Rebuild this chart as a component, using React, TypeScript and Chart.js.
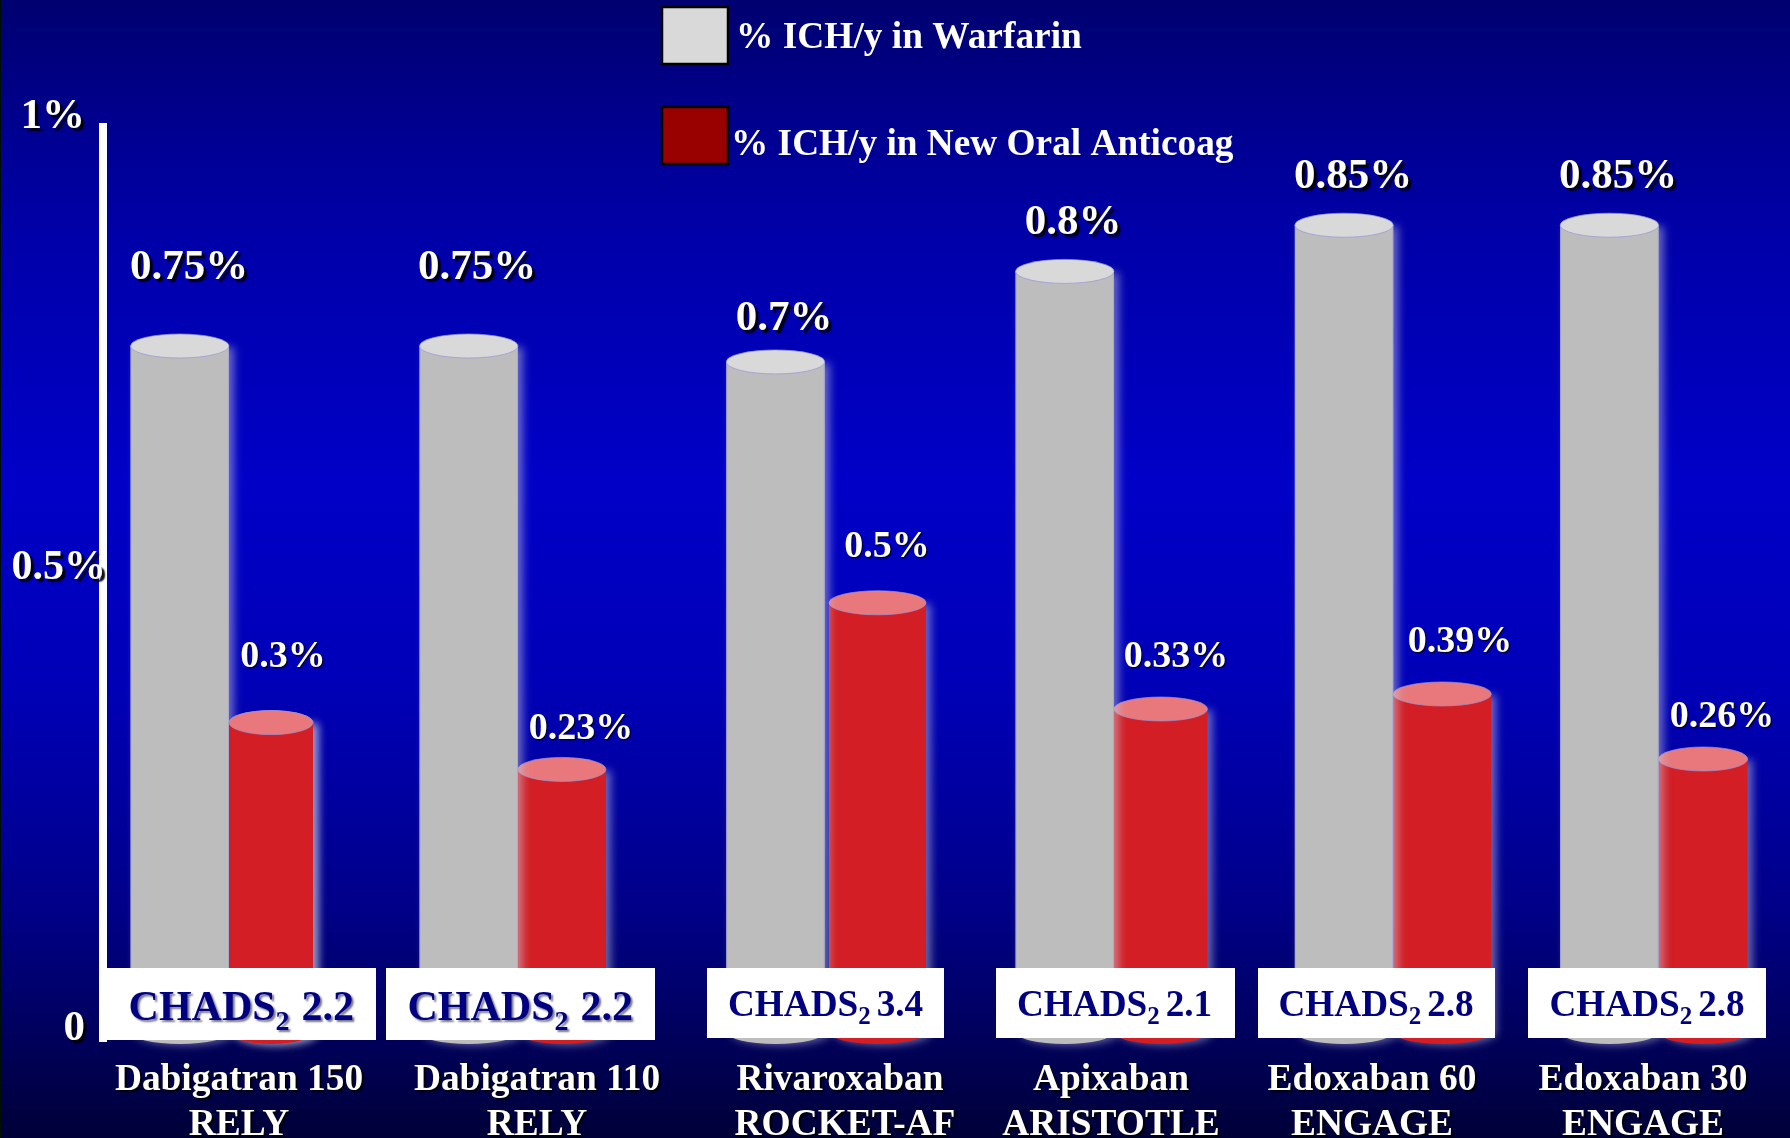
import React, { useEffect, useRef } from "react";
import { Chart, registerables, BarController, BarElement } from "chart.js";

const trials = ["Dabigatran 150", "Dabigatran 110", "Rivaroxaban", "Apixaban", "Edoxaban 60", "Edoxaban 30"];
const studies = ["RELY", "RELY", "ROCKET-AF", "ARISTOTLE", "ENGAGE", "ENGAGE"];
const chadsScores = ["2.2", "2.2", "3.4", "2.1", "2.8", "2.8"];
const warfarinHeights = [0.7576, 0.7576, 0.74, 0.84, 0.891, 0.891];
const noacHeights = [0.3417, 0.29, 0.474, 0.3567, 0.3733, 0.3015];
const warfarinLabels = ["0.75%", "0.75%", "0.7%", "0.8%", "0.85%", "0.85%"];
const noacLabels = ["0.3%", "0.23%", "0.5%", "0.33%", "0.39%", "0.26%"];
const yTicks = [0, 0.5, 1];
const yTickLabels = ["0", "0.5%", "1%"];
const seriesNames = ["% ICH/y in Warfarin", "% ICH/y in New Oral Anticoag"];

const SERIF = '"Liberation Serif"';
const layout = {
  groupShift: [-14.6, -6.8, 18.8, 26.9, 25, 9.2],
  noacGap: [0, 0, 4.3, 0, 0, 0],
  noacWidth: [84, 88, 97, 93.5, 98, 89],
  noacOnTop: [true, false, false, false, false, false],
  warfarinLabel: [[189, 279], [477, 279], [784, 330], [1073, 234], [1353, 188], [1618, 188]],
  noacLabel: [[283, 667], [581, 739], [887, 557], [1176, 667], [1460, 652], [1722, 727]],
  tick: [[85, 1040], [106, 579], [85, 128]],
  xLabelX: [239, 537, 845, 1111, 1372, 1643],
  xLabelFirstLineX: [239, 537, 840, 1111, 1372, 1643],
  box: [[107, 968, 269, 72], [386, 968, 269, 72], [707, 968, 237, 70], [996, 968, 239, 70], [1258, 968, 237, 70], [1528, 968, 238, 70]],
  chadsX: [128.6, 407.5, 728, 1017, 1278.5, 1549.5],
};

class CylinderElement extends BarElement {
  static id = "cylinder";
  draw(ctx: CanvasRenderingContext2D) {
    const self: any = this;
    const s = self.seriesIndex;
    const i = self.pointIndex;
    const left = self.x - self.width / 2 + layout.groupShift[i] + (s === 1 ? layout.noacGap[i] : 0);
    const w = s === 1 ? layout.noacWidth[i] : self.width;
    const cx = left + w / 2;
    const ry = 12;
    const body = self.options.backgroundColor;
    const cap = s === 0 ? "#d9d9d9" : "#e8787c";
    ctx.save();
    ctx.shadowColor = "rgba(205,205,225,0.5)";
    ctx.shadowBlur = 9;
    ctx.shadowOffsetX = 5;
    ctx.shadowOffsetY = 1;
    ctx.fillStyle = body;
    ctx.beginPath();
    ctx.moveTo(left, self.y);
    ctx.lineTo(left, self.base);
    ctx.ellipse(cx, self.base, w / 2, ry, 0, Math.PI, 0, true);
    ctx.lineTo(left + w, self.y);
    ctx.closePath();
    ctx.fill();
    ctx.restore();
    ctx.save();
    if (s === 0) {
      ctx.strokeStyle = "rgba(165,165,215,0.8)";
      ctx.lineWidth = 1;
      ctx.beginPath();
      ctx.moveTo(left + 0.5, self.y);
      ctx.lineTo(left + 0.5, self.base);
      ctx.moveTo(left + w - 0.5, self.y);
      ctx.lineTo(left + w - 0.5, self.base);
      ctx.stroke();
    }
    ctx.fillStyle = cap;
    ctx.strokeStyle = "rgba(150,150,215,0.7)";
    ctx.lineWidth = 1;
    ctx.beginPath();
    ctx.ellipse(cx, self.y, w / 2, ry, 0, 0, Math.PI * 2);
    ctx.fill();
    ctx.stroke();
    ctx.restore();
    if (s === 0 && layout.noacOnTop[i] && self.partner) self.partner.draw(ctx);
  }
}

class CylinderController extends BarController {
  static id = "cylinder";
  static defaults = { ...BarController.defaults, dataElementType: "cylinder" };
  updateElements(bars: any[], start: number, count: number, mode: any) {
    super.updateElements(bars as any, start, count, mode);
    for (let i = start; i < start + count; i++) {
      bars[i].seriesIndex = this.index;
      bars[i].pointIndex = i;
      if (this.index === 1) {
        const other = this.chart.getDatasetMeta(0).data[i] as any;
        if (other) other.partner = bars[i];
      }
    }
  }
}

Chart.register(...registerables, CylinderElement, CylinderController);

function shadowText(ctx: CanvasRenderingContext2D, text: string, x: number, y: number, font: string, align: CanvasTextAlign, off = 3) {
  ctx.save();
  ctx.font = font;
  ctx.textAlign = align;
  ctx.textBaseline = "alphabetic";
  if (off > 0) {
    ctx.shadowColor = "rgba(0,0,0,0.95)";
    ctx.shadowBlur = 1.5;
    ctx.shadowOffsetX = off;
    ctx.shadowOffsetY = off;
  }
  ctx.fillStyle = "#ffffff";
  ctx.fillText(text, x, y);
  ctx.restore();
}

const backdrop = {
  id: "backdrop",
  beforeDraw(chart: any) {
    const { ctx, width, height } = chart;
    const g = ctx.createLinearGradient(0, 0, 0, height);
    g.addColorStop(0, "#000070");
    g.addColorStop(0.2, "#0000a8");
    g.addColorStop(0.42, "#0000c8");
    g.addColorStop(0.6, "#0000b8");
    g.addColorStop(0.8, "#000088");
    g.addColorStop(1, "#000038");
    ctx.save();
    ctx.fillStyle = g;
    ctx.fillRect(0, 0, width, height);
    ctx.fillStyle = "#001000";
    ctx.fillRect(0, 0, 1, height);
    ctx.restore();
  },
};

const annotations = {
  id: "annotations",
  afterDatasetsDraw(chart: any) {
    const { ctx } = chart;
    // y-axis tick labels
    yTickLabels.forEach((t, i) => {
      const [x, y] = layout.tick[i];
      shadowText(ctx, t, x, y, `bold ${i === 1 ? 42 : 43}px ${SERIF}`, "right");
    });
    // legend
    const swatches = [[662, 7, 66, 57, "#d9d9d9"], [662, 107, 66, 57, "#990000"]] as const;
    swatches.forEach(([x, y, w, h, c]) => {
      ctx.save();
      ctx.fillStyle = c;
      ctx.strokeStyle = "#000000";
      ctx.lineWidth = 2.5;
      ctx.fillRect(x, y, w, h);
      ctx.strokeRect(x, y, w, h);
      ctx.restore();
    });
    shadowText(ctx, chart.data.datasets[0].label, 736, 48, `bold 37.4px ${SERIF}`, "left", 0);
    shadowText(ctx, chart.data.datasets[1].label, 731, 155, `bold 37.3px ${SERIF}`, "left", 0);
    // value labels
    warfarinLabels.forEach((t, i) => {
      const [x, y] = layout.warfarinLabel[i];
      shadowText(ctx, t, x, y, `bold 43px ${SERIF}`, "center");
    });
    noacLabels.forEach((t, i) => {
      const [x, y] = layout.noacLabel[i];
      shadowText(ctx, t, x, y, `bold 38px ${SERIF}`, "center", 1);
    });
    // CHADS boxes
    chadsScores.forEach((score, i) => {
      const [bx, by, bw, bh] = layout.box[i];
      ctx.save();
      ctx.fillStyle = "#ffffff";
      ctx.fillRect(bx, by, bw, bh);
      const big = i < 2;
      const size = big ? 42 : 37.2;
      const base = big ? 1020 : 1016;
      if (big) {
        ctx.shadowColor = "rgba(60,60,90,0.7)";
        ctx.shadowBlur = 2;
        ctx.shadowOffsetX = 2;
        ctx.shadowOffsetY = 2;
      }
      ctx.fillStyle = "#000080";
      ctx.textAlign = "left";
      ctx.textBaseline = "alphabetic";
      let x = layout.chadsX[i];
      ctx.font = `bold ${size}px ${SERIF}`;
      ctx.fillText("CHADS", x, base);
      x += ctx.measureText("CHADS").width;
      ctx.font = `bold ${Math.round(size * 0.66)}px ${SERIF}`;
      ctx.fillText("2", x, base + (big ? 10 : 8));
      x += ctx.measureText("2").width + (big ? 12 : 6);
      ctx.font = `bold ${size}px ${SERIF}`;
      ctx.fillText(score, x, base);
      ctx.restore();
    });
    // category labels
    trials.forEach((t, i) => {
      shadowText(ctx, t, layout.xLabelFirstLineX[i], 1090, `bold 37.4px ${SERIF}`, "center", 2);
      shadowText(ctx, studies[i], layout.xLabelX[i], 1135, `bold 37.4px ${SERIF}`, "center", 2);
    });
  },
};

export default function App() {
  const ref = useRef<HTMLCanvasElement>(null);
  useEffect(() => {
    document.body.style.margin = "0";
    const chart = new Chart(ref.current as HTMLCanvasElement, {
      type: "cylinder" as any,
      data: {
        labels: trials,
        datasets: [
          { label: seriesNames[0], data: warfarinHeights, order: 1, backgroundColor: "#bdbdbd", clip: false },
          { label: seriesNames[1], data: noacHeights, order: 2, backgroundColor: "#d21e24", clip: false },
        ],
      },
      options: {
        responsive: false,
        animation: false,
        events: [],
        layout: { padding: { left: 103, right: 0, top: 126.5, bottom: 97 } },
        datasets: { cylinder: { categoryPercentage: 0.7, barPercentage: 1 } } as any,
        plugins: { legend: { display: false }, tooltip: { enabled: false } },
        scales: {
          x: {
            type: "category",
            offset: true,
            display: true,
            grid: { display: false, drawTicks: false },
            border: { display: false },
            ticks: { display: false },
            afterFit(s: any) { s.height = 0; },
          },
          y: {
            type: "linear",
            min: -0.00994,
            max: 1,
            display: true,
            grid: { display: false, drawTicks: false },
            border: { display: true, color: "#ffffff", width: 8 },
            ticks: { display: false },
            afterBuildTicks(s: any) { s.ticks = yTicks.map((value) => ({ value })); },
            afterFit(s: any) { s.width = 0; },
          },
        },
      } as any,
      plugins: [backdrop, annotations],
    });
    return () => chart.destroy();
  }, []);
  return <canvas ref={ref} width={1790} height={1138} style={{ display: "block", width: 1790, height: 1138 }} />;
}
